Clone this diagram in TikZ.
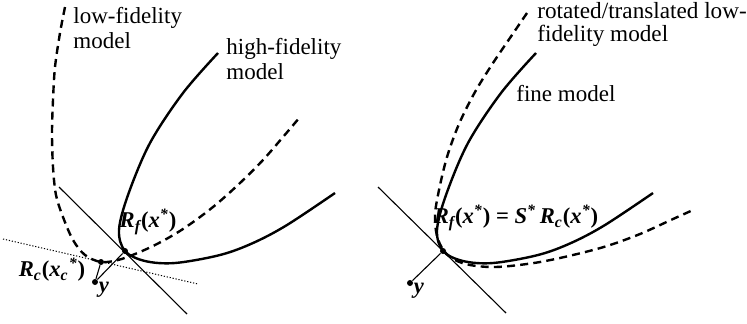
\documentclass[tikz,border=0pt]{standalone}
\usepackage{fontspec}
\setmainfont{Liberation Serif}
\usepackage{tikz}
\usetikzlibrary{positioning}

\begin{document}
\begin{tikzpicture}[x=0.5pt, y=-0.5pt, every node/.style={font=\fontsize{11.5}{12.5}\selectfont}, curve/.style={line width=1.2pt, smooth, tension=0.55}, lofi/.style={curve, dash pattern=on 4pt off 2.6pt}, thinline/.style={line width=0.55pt}, dotline/.style={line width=0.5pt, dash pattern=on 0.6pt off 0.9pt}, dot/.style={circle, fill, inner sep=0pt, minimum size=3pt}, txt/.style={align=left, anchor=north west, inner sep=0pt}, lbl/.style={inner sep=0pt, font=\fontsize{11.3}{12.5}\selectfont\bfseries\itshape}]
\useasboundingbox (0,0) rectangle (747,323);
% left panel: low- and high-fidelity models
\draw[lofi] plot coordinates {(65,7) (60,33) (55,67) (53,100) (52,133) (53,167) (56,195) (63,217) (73,240) (85,255) (101,262) (118,260) (135,254) (157,244) (183,229) (213,207) (240,183) (263,160) (283,137) (300,117)};
\draw[curve] plot coordinates {(218,53) (183,93) (150,143) (128,195) (119,230) (125,251) (145,261) (175,263) (220,255) (253,243) (287,225) (335,193)};
\node[dot] (rf) at (125,251) {};
\node[dot] (rc) at (101,262) {};
\node[dot] (y) at (95,282) {};
\coordinate (tanA) at (59,187);
\coordinate (tanB) at (187,314);
\coordinate (dotA) at (3,239);
\coordinate (dotB) at (198,284);
\draw[thinline] (tanA)--(tanB);
\draw[dotline] (dotA)--(dotB);
\draw[thinline] (y)--(rc);
\draw[thinline] (y)--(rf);
\node[lbl] (rflbl) at (148,222) {R\textsubscript{f}\textup{(}x\textsuperscript{*}\textup{)}};
\node[lbl] (rclbl) at (52,270) {R\textsubscript{c}\textup{(}x\textsubscript{c}\textsuperscript{*}\textup{)}};
\node[lbl,anchor=north west] (ylbl) at (y.east) {y};
\node[txt] (lofitxt) at (73,7) {low-fidelity\\model};
\node[txt] (hifitxt) at (226,38) {high-fidelity\\model};
% right panel: aligned models
\draw[lofi] plot coordinates {(527,13) (512,35) (493,63) (475,92) (459,124) (447,157) (439,190) (435,215) (437,236) (444,251) (455,260) (470,265) (490,267) (510,266) (540,262) (573,255) (607,246) (640,234) (673,219) (693,210)};
\draw[curve] plot coordinates {(536,53) (501,93) (468,143) (446,195) (437,230) (443,251) (463,261) (493,263) (538,255) (571,243) (605,225) (653,193)};
\node[dot] (rf2) at (443,251) {};
\node[dot] (y2) at (410,283) {};
\coordinate (tanC) at (378,187);
\coordinate (tanD) at (506,313);
\draw[thinline] (tanC)--(tanD);
\draw[thinline] (y2)--(rf2);
\node[lbl] (eqlbl) at (516,218) {R\textsubscript{f}\textup{(}x\textsuperscript{*}\textup{)} \textup{=} S\textsuperscript{*}\,R\textsubscript{c}\textup{(}x\textsuperscript{*}\textup{)}};
\node[lbl,anchor=north west] (y2lbl) at (y2.east) {y};
\node[txt,font=\fontsize{11.6}{11.5}\selectfont] (rottxt) at (537,2) {rotated/translated low-\\fidelity model};
\node[txt] (finetxt) at (516,85) {fine model};
\end{tikzpicture}
\end{document}
